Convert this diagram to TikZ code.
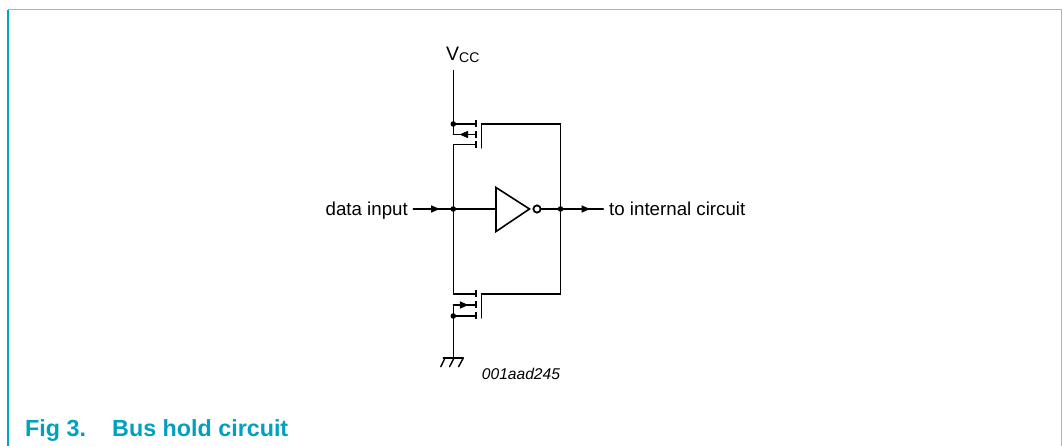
\documentclass[tikz,border=0pt]{standalone}
\usepackage{fontspec}
\setmainfont{Liberation Sans}
\usetikzlibrary{arrows.meta,decorations.markings}
\definecolor{frameA}{RGB}{0,163,196}
\definecolor{frameB}{RGB}{110,204,220}
\definecolor{titlecol}{RGB}{0,160,192}
\tikzset{
  wire/.style={line width=1.4pt, line cap=round},
  chan/.style={line width=2pt},
  jdot/.style={circle, fill=black, inner sep=0pt, minimum size=5.6pt},
  lbl/.style={font=\fontsize{18.7}{20}\selectfont, inner sep=0pt},
  midarrow/.style={decoration={markings, mark=at position #1 with {\arrow{Triangle[length=8.5pt,width=7pt]}}}, postaction={decorate}},
}
\begin{document}
\begin{tikzpicture}[x=1pt,y=-1pt]
\useasboundingbox (0,0) rectangle (1063,446);
% frame
\draw[frameB, line width=1.6pt] (8,9.7) -- (1061.5,9.7) -- (1061.5,446);
\draw[frameA, line width=1.4pt] (8,9.7) -- (8,446);
% title
\node[font=\fontsize{23.3}{24}\selectfont\bfseries, text=titlecol, anchor=base west, inner sep=0pt] (fig) at (25,436.7) {Fig 3.};
\node[font=\fontsize{23.3}{24}\selectfont\bfseries, text=titlecol, anchor=base west, inner sep=0pt] (title) at (112,436.7) {Bus hold circuit};
% coordinates
\coordinate (vtop) at (453.3,70.5);
\coordinate (s1) at (453.3,124);
\coordinate (s1ch) at (475.5,124);
\coordinate (b1c) at (453.3,134.5);
\coordinate (b1ch) at (475.5,134.5);
\coordinate (d1c) at (453.3,144.5);
\coordinate (d1ch) at (475.5,144.5);
\coordinate (g1t) at (481.5,124);
\coordinate (g1b) at (481.5,148);
\coordinate (g1r) at (560.5,124);
\coordinate (nin) at (453.3,209);
\coordinate (nout) at (560.5,209);
\coordinate (d2c) at (453.3,294);
\coordinate (d2ch) at (475.5,294);
\coordinate (b2c) at (453.3,305);
\coordinate (b2ch) at (475.5,305);
\coordinate (s2) at (453.3,316);
\coordinate (s2ch) at (475.5,316);
\coordinate (g2t) at (481.5,294);
\coordinate (g2b) at (481.5,318);
\coordinate (g2r) at (560.5,294);
\coordinate (gnd) at (453.3,358);
\coordinate (invin) at (496,209);
\coordinate (invtop) at (496,187.5);
\coordinate (invbot) at (496,231.5);
\coordinate (invtip) at (529.5,209);
\coordinate (bubout) at (540.8,209);
\coordinate (dinend) at (413.3,209);
\coordinate (doutst) at (603.3,209);
% labels
\node[lbl, anchor=base west] (vcc) at (446,61) {\fontsize{19.5}{20}\selectfont V\raisebox{-1.5pt}{\fontsize{14}{14}\selectfont CC}};
\node[lbl, anchor=base east] (din) at (408,215.5) {data input};
\node[lbl, anchor=base west] (dout) at (609,215.5) {to internal circuit};
\node[font=\fontsize{15.6}{16}\selectfont\itshape, anchor=base west, inner sep=0pt] (code) at (481.7,379.3) {001aad245};
% upper PMOS
\draw[wire] (vtop) -- (b1c);
\draw[wire, midarrow=0.72] (b1ch) -- (b1c);
\draw[wire] (s1) -- (s1ch);
\draw[wire] (d1ch) -- (d1c) -- (nin);
\draw[chan] (475.5,120.5) -- (475.5,127.5);
\draw[chan] (475.5,131) -- (475.5,138);
\draw[chan] (475.5,141.5) -- (475.5,148);
\draw[wire] (g1b) -- (g1t) -- (g1r) -- (nout);
% lower NMOS
\draw[wire] (nin) -- (d2c) -- (d2ch);
\draw[wire, midarrow=0.68] (b2c) -- (b2ch);
\draw[wire] (s2) -- (s2ch);
\draw[wire] (b2c) -- (gnd);
\draw[chan] (475.5,290.5) -- (475.5,297.5);
\draw[chan] (475.5,301.5) -- (475.5,308.5);
\draw[chan] (475.5,312.5) -- (475.5,319.5);
\draw[wire] (g2b) -- (g2t) -- (g2r) -- (nout);
% ground
\draw[wire] (443.3,358) -- (463.3,358);
\draw[wire] (445,358) -- (440.8,366.7);
\draw[wire] (454,358) -- (449.6,366.7);
\draw[wire] (463.3,358) -- (458.6,366.7);
% inverter
\draw[line width=1.6pt, line join=miter] (invtop) -- (invtip) -- (invbot) -- cycle;
\draw[line width=1.8pt] (537,209) circle (3.6);
\draw[wire] (nin) -- (invin);
\draw[wire] (bubout) -- (nout);
% input/output arrows
\draw[wire, midarrow=0.66] (dinend) -- (nin);
\draw[wire, midarrow=0.69] (nout) -- (doutst);
% junction dots
\node[jdot] (jin) at (nin) {};
\node[jdot] (jout) at (nout) {};
\node[jdot] (js1) at (s1) {};
\node[jdot] (js2) at (s2) {};
\end{tikzpicture}
\end{document}
